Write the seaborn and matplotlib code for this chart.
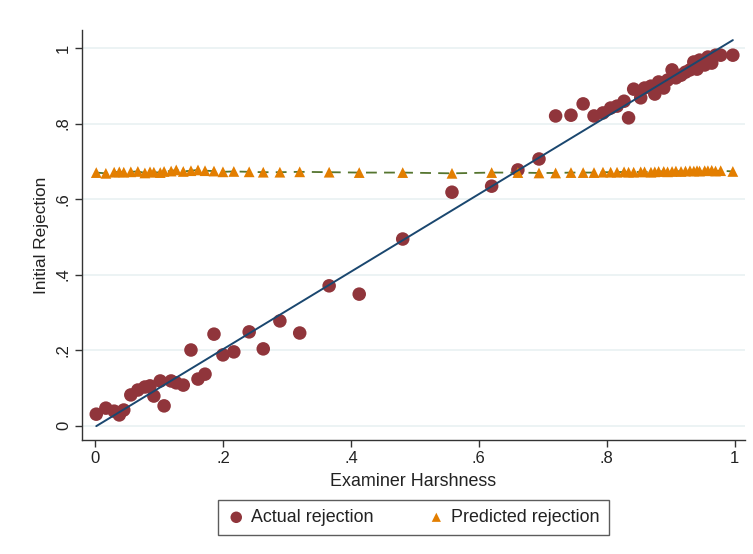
import numpy as np
import pandas as pd
import matplotlib
matplotlib.use("Agg")
import matplotlib.pyplot as plt
import seaborn as sns

# ---- data ----
harshness = [0.002, 0.017, 0.030, 0.038, 0.045, 0.056, 0.067, 0.078, 0.086, 0.092,
             0.102, 0.108, 0.119, 0.127, 0.138, 0.150, 0.161, 0.172, 0.186, 0.200,
             0.217, 0.241, 0.263, 0.289, 0.320, 0.366, 0.413, 0.481, 0.558, 0.620,
             0.661, 0.694, 0.720, 0.744, 0.763, 0.780, 0.794, 0.806, 0.816, 0.827,
             0.834, 0.842, 0.853, 0.859, 0.869, 0.875, 0.881, 0.889, 0.895, 0.902,
             0.908, 0.916, 0.923, 0.930, 0.936, 0.941, 0.945, 0.953, 0.958, 0.964,
             0.970, 0.978, 0.997]
actual = [0.030, 0.046, 0.038, 0.028, 0.041, 0.081, 0.094, 0.102, 0.105, 0.078,
          0.118, 0.052, 0.118, 0.113, 0.107, 0.200, 0.123, 0.136, 0.242, 0.187,
          0.195, 0.248, 0.203, 0.277, 0.245, 0.370, 0.348, 0.494, 0.618, 0.634,
          0.677, 0.706, 0.820, 0.822, 0.852, 0.820, 0.828, 0.841, 0.846, 0.859,
          0.815, 0.891, 0.868, 0.894, 0.899, 0.878, 0.910, 0.894, 0.915, 0.942,
          0.921, 0.928, 0.936, 0.942, 0.963, 0.944, 0.968, 0.955, 0.976, 0.960,
          0.981, 0.981, 0.981]
predicted = [0.670, 0.668, 0.671, 0.672, 0.671, 0.672, 0.673, 0.669, 0.672, 0.671,
             0.670, 0.673, 0.674, 0.677, 0.673, 0.675, 0.677, 0.675, 0.674, 0.672,
             0.673, 0.672, 0.671, 0.671, 0.672, 0.671, 0.670, 0.670, 0.668, 0.670,
             0.670, 0.669, 0.669, 0.670, 0.670, 0.670, 0.671, 0.671, 0.671, 0.672,
             0.671, 0.671, 0.672, 0.672, 0.671, 0.672, 0.673, 0.673, 0.672, 0.673,
             0.674, 0.673, 0.674, 0.675, 0.674, 0.675, 0.674, 0.675, 0.675, 0.676,
             0.674, 0.675, 0.673]
xticks = [0, 0.2, 0.4, 0.6, 0.8, 1.0]
xticklabels = ["0", ".2", ".4", ".6", ".8", "1"]
yticks = [0, 0.2, 0.4, 0.6, 0.8, 1.0]
yticklabels = ["0", ".2", ".4", ".6", ".8", "1"]

df = pd.DataFrame({"harshness": harshness, "actual": actual, "predicted": predicted})

NAVY = "#1a476f"
MAROON = "#90353b"
GREEN = "#55752f"
ORANGE = "#e37e00"
GRID = "#eaf2f3"

sns.set_theme(style="white")
plt.rcParams["font.family"] = ["Liberation Sans", "DejaVu Sans"]

fig = plt.figure(figsize=(7.53, 5.54), dpi=100)
ax = fig.add_axes([82 / 753, 1 - 440 / 554, (745 - 82) / 753, (440 - 30) / 554])

for y in yticks:
    ax.axhline(y, color=GRID, lw=1.3, zorder=0)

sns.scatterplot(data=df, x="harshness", y="actual", ax=ax, color=MAROON, s=95,
                marker="o", edgecolor="none", label="Actual rejection", zorder=3)
sns.lineplot(data=df, x="harshness", y="predicted", ax=ax, color=GREEN, lw=1.3,
             linestyle="--", zorder=2, legend=False, estimator=None)
ax.lines[-1].set_dashes((6, 4))
sns.scatterplot(data=df, x="harshness", y="predicted", ax=ax, color=ORANGE, s=60,
                marker="^", edgecolor="none", label="Predicted rejection", zorder=4)
sns.regplot(data=df, x="harshness", y="actual", ax=ax, scatter=False, ci=None,
            truncate=True, line_kws={"color": NAVY, "lw": 1.4, "zorder": 5})

ax.set_xlim(-0.0203, 1.016)
ax.set_ylim(-0.0384, 1.0477)
ax.set_xticks(xticks)
ax.set_xticklabels(xticklabels)
ax.set_yticks(yticks)
ax.set_yticklabels(yticklabels, rotation=90, va="center")
ax.set_xlabel("Examiner Harshness", fontsize=12.9, color="#222222", labelpad=5)
ax.set_ylabel("Initial Rejection", fontsize=12.4, color="#222222", labelpad=5)

for s in ["top", "right"]:
    ax.spines[s].set_visible(False)
for s in ["left", "bottom"]:
    ax.spines[s].set_color("#333333")
    ax.spines[s].set_linewidth(1.0)
ax.tick_params(axis="both", which="major", length=5, width=1.0, color="#333333",
               labelsize=12, labelcolor="#222222", direction="out",
               left=True, bottom=True)
ax.tick_params(axis="y", pad=3)
ax.tick_params(axis="x", pad=3)

handles, labels = ax.get_legend_handles_labels()
leg = ax.legend(handles[:2], labels[:2], loc="center", bbox_to_anchor=(0.5, -0.189),
                ncol=2, frameon=True, fancybox=False, fontsize=12.9,
                columnspacing=3.0, handlelength=1.0, handletextpad=0.33,
                markerscale=0.85, borderpad=0.5)
leg.get_frame().set_edgecolor("#333333")
leg.get_frame().set_linewidth(1.0)
for t in leg.get_texts():
    t.set_color("#222222")

fig.savefig("out.png", dpi=100, facecolor="white")
